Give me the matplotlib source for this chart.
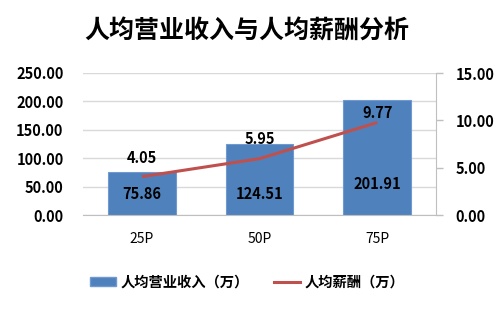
import matplotlib
matplotlib.use("Agg")
import matplotlib.pyplot as plt
from matplotlib.patches import Patch
from matplotlib.lines import Line2D
import numpy as np

plt.rcParams["font.family"] = ["Noto Sans CJK SC", "DejaVu Sans"]

categories = ["25P", "50P", "75P"]
revenue = [75.86, 124.51, 201.91]     # 人均营业收入（万）
salary = [4.05, 5.95, 9.77]           # 人均薪酬（万）
left_ticks = [0, 50, 100, 150, 200, 250]
right_ticks = [0, 5, 10, 15]

BAR_COLOR = "#4F81BD"
LINE_COLOR = "#C0504D"
GRID = "#D9D9D9"
AXIS = "#BFBFBF"

fig = plt.figure(figsize=(4.94, 3.09), dpi=100)
ax = fig.add_axes([83 / 494, 1 - 215 / 309, (436 - 83) / 494, (215 - 73) / 309])
ax2 = ax.twinx()

x = np.arange(len(categories))
ax.bar(x, revenue, width=0.575, color=BAR_COLOR, edgecolor="#6F99CF",
       linewidth=0.8, zorder=2)
ax.set_xlim(-0.5, len(categories) - 0.5)
ax.set_ylim(0, 250)
ax.set_yticks(left_ticks)
ax.set_yticklabels([f"{v:.2f}" for v in left_ticks], fontsize=10.5,
                   fontweight="bold")
ax.tick_params(axis="y", length=0, pad=14)
ax.set_xticks(x)
ax.set_xticklabels(categories, fontsize=10)
ax.tick_params(axis="x", length=0, pad=12)
ax.grid(axis="y", color=GRID, linewidth=1.0, zorder=0)
ax.set_axisbelow(True)
for side in ["left", "top", "right"]:
    ax.spines[side].set_visible(False)
ax.spines["bottom"].set_color(AXIS)

# bar value labels (pixel offsets above baseline)
bar_offsets = [21, 21, 31]
for xi, v, off in zip(x, revenue, bar_offsets):
    ax.annotate(f"{v:.2f}", (xi, 0), xytext=(0, off * 0.72),
                textcoords="offset points", ha="center", va="center",
                fontsize=10.5, fontweight="bold", color="black", zorder=5)

ax2.plot(x, salary, color=LINE_COLOR, linewidth=2.2, zorder=3,
         solid_capstyle="butt")
ax2.set_ylim(0, 15)
ax2.set_yticks(right_ticks)
ax2.set_yticklabels([f"{v:.2f}" for v in right_ticks], fontsize=10.5,
                    fontweight="bold")
ax2.tick_params(axis="y", length=5, width=1, color=AXIS, pad=9)
for side in ["left", "top", "bottom"]:
    ax2.spines[side].set_visible(False)
ax2.spines["right"].set_color(AXIS)

line_offsets = [19, 20, 10]
for xi, v, off in zip(x, salary, line_offsets):
    ax2.annotate(f"{v:.2f}", (xi, v), xytext=(0, off * 0.72),
                 textcoords="offset points", ha="center", va="center",
                 fontsize=10.5, fontweight="bold", color="black", zorder=5)

fig.text(0.5, 1 - 32 / 309, "人均营业收入与人均薪酬分析", ha="center",
         va="center", fontsize=18, fontweight="bold")

handles = [Patch(facecolor=BAR_COLOR, edgecolor="#6F99CF"),
           Line2D([], [], color=LINE_COLOR, linewidth=2.2)]
fig.legend(handles, ["人均营业收入（万）", "人均薪酬（万）"], loc="center",
           bbox_to_anchor=(0.5, 1 - 283 / 309), ncol=2, frameon=False,
           prop={"size": 10.3, "weight": "bold"}, handlelength=1.85,
           handleheight=0.6, handletextpad=0.3, columnspacing=1.75)

fig.savefig("out.png", dpi=100)
